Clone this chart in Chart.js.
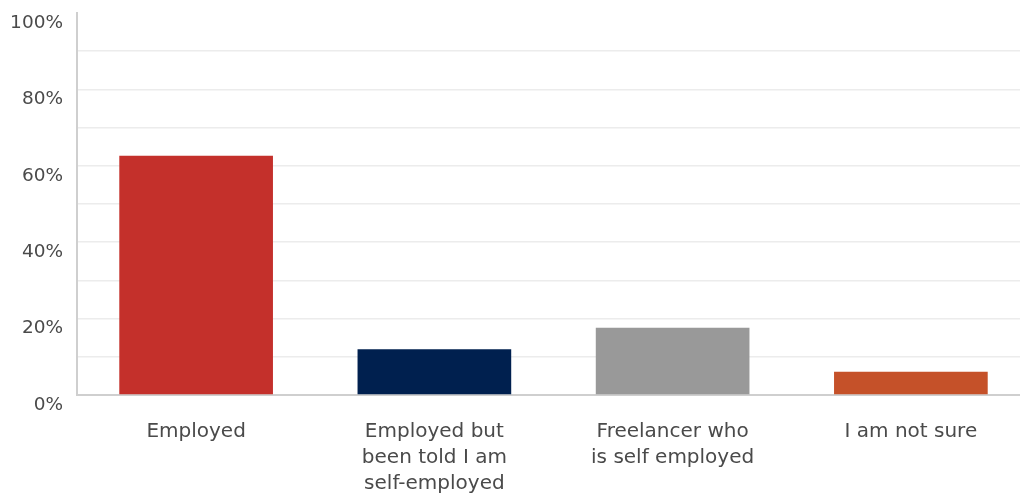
<!DOCTYPE html>
<html>
<head>
<meta charset="utf-8">
<script src="https://cdn.jsdelivr.net/npm/chart.js@4/dist/chart.umd.min.js"></script>
<style>
html, body { margin: 0; padding: 0; background: #fff; overflow: hidden; }
#wrap { width: 1030px; height: 495px; }
</style>
</head>
<body>
<div id="wrap"><canvas id="myChart"></canvas></div>
<script>
var categories = [
    ['Employed'],
    ['Employed but', 'been told I am', 'self-employed'],
    ['Freelancer who', 'is self employed'],
    ['I am not sure']
];
var shares = [62.6, 12.0, 17.6, 6.1];
var barColors = ['#c4302b', '#00204f', '#999999', '#c55129'];
var yTickLabels = [0, 20, 40, 60, 80, 100];

var textColor = '#4a4a4a';
var fontFamily = '"DejaVu Sans", sans-serif';

var ctx = document.getElementById('myChart').getContext('2d');
var myChart = new Chart(ctx, {
    type: 'bar',
    data: {
        labels: categories,
        datasets: [{
            data: shares,
            backgroundColor: barColors,
            barPercentage: 0.645,
            categoryPercentage: 1
        }]
    },
    options: {
        responsive: true,
        maintainAspectRatio: false,
        animation: false,
        layout: {
            padding: { top: 13, right: 0, left: 0, bottom: 0 }
        },
        plugins: {
            legend: { display: false },
            tooltip: { enabled: false }
        },
        scales: {
            x: {
                grid: { display: false, drawTicks: false },
                border: { color: '#cfcfcf', width: 2 },
                ticks: {
                    color: textColor,
                    padding: 24,
                    maxRotation: 0,
                    autoSkip: false,
                    font: { family: fontFamily, size: 20, lineHeight: 1.3 }
                },
                afterFit: function (scale) { scale.height = 100; }
            },
            y: {
                min: 0,
                max: 100,
                grid: {
                    drawTicks: false,
                    lineWidth: 1.5,
                    color: function (c) {
                        return c.tick && c.tick.value === 100 ? 'rgba(0,0,0,0)' : '#ececec';
                    }
                },
                border: { color: '#cfcfcf', width: 2 },
                ticks: {
                    stepSize: 10,
                    color: textColor,
                    padding: 14,
                    labelOffset: 10,
                    font: { family: fontFamily, size: 18.5 },
                    callback: function (v) {
                        return yTickLabels.indexOf(v) >= 0 ? v + '%' : '';
                    }
                },
                afterFit: function (scale) {
                    scale.width = 77;
                    scale.paddingTop = 0;
                    scale.paddingBottom = 0;
                }
            }
        }
    }
});
</script>
</body>
</html>
